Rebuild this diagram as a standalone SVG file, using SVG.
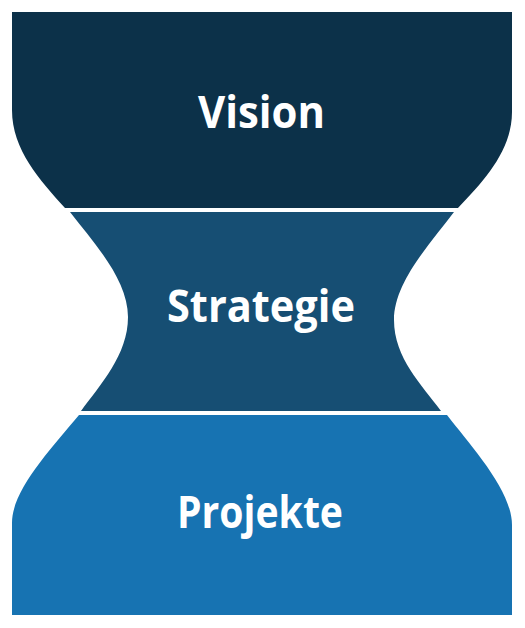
<svg xmlns="http://www.w3.org/2000/svg" width="525" height="628" viewBox="0 0 525 628">
<style>
.t{font-family:"Open Sans","Liberation Sans",sans-serif;font-weight:700;font-size:45px;fill:#ffffff;text-anchor:middle}
</style>
<rect width="525" height="628" fill="#ffffff"/>
<g id="vision">
<path d="M12,12 L512,12 L512,112 C512,150 485,180 458,208 L65,208 C40,180 12,150 12,110 Z" fill="#0c3149"/>
<text class="t" x="261.5" y="128" textLength="127" lengthAdjust="spacingAndGlyphs">Vision</text>
</g>
<g id="strategie">
<path d="M70,212 L454,212 C430,244 394,282 394,320 C394,358 422,385 441,411 L81,411 C100,385 128,355 128,317 C128,280 95,244 70,212 Z" fill="#164e73"/>
<text class="t" x="261" y="322" textLength="188" lengthAdjust="spacingAndGlyphs">Strategie</text>
</g>
<g id="projekte">
<path d="M79,415 L447,415 C470,445 512,490 512,525 L512,615 L12,615 L12,523 C12,490 50,450 79,415 Z" fill="#1773b2"/>
<text class="t" x="260" y="528" textLength="166" lengthAdjust="spacingAndGlyphs">Projekte</text>
</g>
<g id="connectors"/>
</svg>
